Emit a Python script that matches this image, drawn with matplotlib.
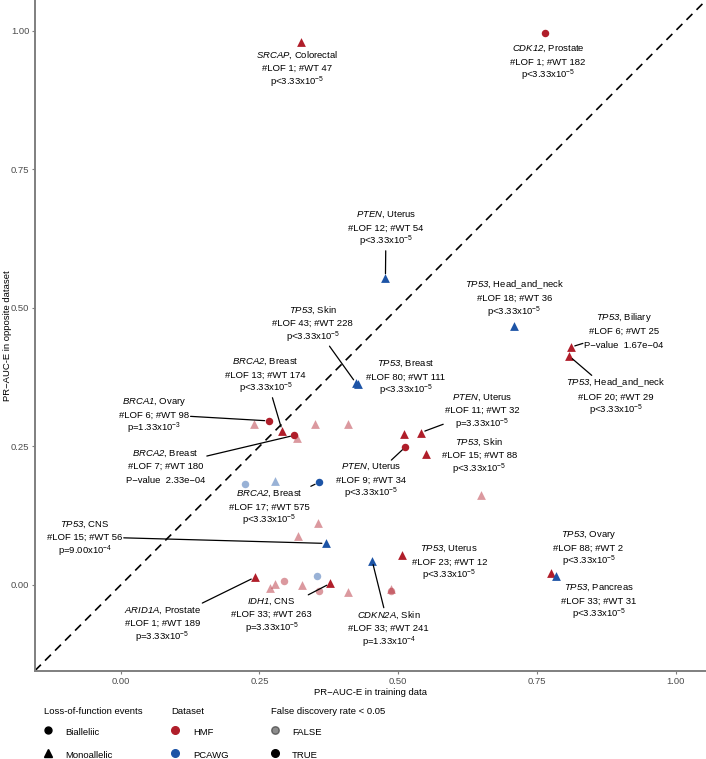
import matplotlib
matplotlib.use('Agg')
import matplotlib.pyplot as plt
from matplotlib.lines import Line2D
from matplotlib.patches import Rectangle
from matplotlib.transforms import Bbox, IdentityTransform

plt.rcParams['font.family'] = 'Liberation Sans'
plt.rcParams['mathtext.fontset'] = 'custom'
plt.rcParams['mathtext.rm'] = 'Liberation Sans'
plt.rcParams['mathtext.it'] = 'Liberation Sans:italic'
plt.rcParams['mathtext.sf'] = 'Liberation Sans:italic'

# Labelled gene / tissue combinations
genes = ['SRCAP', 'CDK12', 'PTEN', 'TP53', 'TP53', 'TP53', 'TP53', 'TP53', 'BRCA2', 'BRCA1', 'BRCA2',
         'PTEN', 'PTEN', 'TP53', 'BRCA2', 'TP53', 'TP53', 'CDKN2A', 'ARID1A', 'IDH1', 'TP53', 'TP53']
tissues = ['Colorectal', 'Prostate', 'Uterus', 'Head_and_neck', 'Biliary', 'Head_and_neck', 'Skin', 'Breast',
           'Breast', 'Ovary', 'Breast', 'Uterus', 'Uterus', 'Skin', 'Breast', 'CNS', 'Uterus', 'Skin',
           'Prostate', 'CNS', 'Ovary', 'Pancreas']
n_lof = [1, 1, 12, 18, 6, 20, 43, 80, 13, 6, 7, 11, 9, 15, 17, 15, 23, 33, 1, 33, 88, 33]
n_wt = [47, 182, 54, 36, 25, 29, 228, 111, 174, 98, 180, 32, 34, 88, 575, 56, 12, 241, 189, 263, 2, 31]
p_labels = ['p<3.33x10$^{-5}$', 'p<3.33x10$^{-5}$', 'p<3.33x10$^{-5}$', 'p<3.33x10$^{-5}$',
            'P\u2212value  1.67e\u221204', 'p<3.33x10$^{-5}$', 'p<3.33x10$^{-5}$', 'p<3.33x10$^{-5}$',
            'p<3.33x10$^{-5}$', 'p=1.33x10$^{-3}$', 'P\u2212value  2.33e\u221204', 'p=3.33x10$^{-5}$',
            'p<3.33x10$^{-5}$', 'p<3.33x10$^{-5}$', 'p<3.33x10$^{-5}$', 'p=9.00x10$^{-4}$',
            'p<3.33x10$^{-5}$', 'p=1.33x10$^{-4}$', 'p=3.33x10$^{-5}$', 'p=3.33x10$^{-5}$',
            'p<3.33x10$^{-5}$', 'p<3.33x10$^{-5}$']
lab_train = [0.324, 0.764, 0.477, 0.709, 0.811, 0.808, 0.424, 0.427, 0.291, 0.267, 0.313,
             0.541, 0.513, 0.551, 0.357, 0.370, 0.507, 0.453, 0.242, 0.378, 0.775, 0.785]
lab_opp = [0.980, 0.995, 0.554, 0.468, 0.429, 0.413, 0.364, 0.362, 0.278, 0.296, 0.270,
           0.275, 0.249, 0.236, 0.185, 0.075, 0.054, 0.044, 0.014, 0.003, 0.021, 0.017]
lab_dataset = ['HMF', 'HMF', 'PCAWG', 'PCAWG', 'HMF', 'HMF', 'PCAWG', 'PCAWG', 'HMF', 'HMF', 'HMF',
               'HMF', 'HMF', 'HMF', 'PCAWG', 'PCAWG', 'HMF', 'PCAWG', 'HMF', 'HMF', 'HMF', 'PCAWG']
lab_lof = ['Mono', 'Bi', 'Mono', 'Mono', 'Mono', 'Mono', 'Mono', 'Mono', 'Mono', 'Bi', 'Bi',
           'Mono', 'Bi', 'Mono', 'Bi', 'Mono', 'Mono', 'Mono', 'Mono', 'Mono', 'Mono', 'Mono']

# Unlabelled points
other_train = [0.511, 0.240, 0.351, 0.409, 0.318, 0.649, 0.355, 0.319, 0.269, 0.278, 0.327, 0.409,
               0.487, 0.294, 0.357, 0.487, 0.224, 0.354, 0.278]
other_opp = [0.272, 0.290, 0.290, 0.290, 0.265, 0.162, 0.112, 0.088, -0.006, 0.002, 0.000, -0.012,
             -0.008, 0.008, -0.010, -0.010, 0.182, 0.017, 0.188]
other_dataset = ['HMF'] * 16 + ['PCAWG'] * 3
other_lof = ['Mono'] * 13 + ['Bi'] * 3 + ['Bi', 'Bi', 'Mono']
other_sig = [True] + [False] * 18

# label placement (data coords, centre of text block) and whether a segment is drawn
label_pos = [(0.318, 0.933), (0.770, 0.945), (0.478, 0.645), (0.709, 0.518), (0.907, 0.459),
             (0.892, 0.341), (0.346, 0.473), (0.514, 0.376), (0.261, 0.380), (0.060, 0.308),
             (0.081, 0.215), (0.651, 0.316), (0.451, 0.191), (0.646, 0.235), (0.268, 0.142),
             (-0.065, 0.087), (0.592, 0.043), (0.483, -0.077), (0.075, -0.068), (0.272, -0.052),
             (0.843, 0.068), (0.861, -0.028)]
segment = [False, False, True, False, True, True, True, False, True, True, True, True, True, False,
           True, True, False, True, True, True, False, False]

colors = {'HMF': '#B01E2A', 'PCAWG': '#1D54A6'}
markers = {'Bi': 'o', 'Mono': '^'}
sizes = {'Bi': 29, 'Mono': 40}
FS = 6.8
LINE_PT = 9.86   # distance between label lines, points

fig = plt.figure(figsize=(7.06, 7.59), dpi=100)
ax = fig.add_axes([35 / 706, 88.3 / 759, 671 / 706, 670.7 / 759])
ax.set_xlim(-0.1544, 1.0546)
ax.set_ylim(-0.1546, 1.0552)

ax.axline((0, 0), slope=1, color='black', lw=1.2, ls=(0, (5, 3.5)), zorder=1)


def draw_point(x, y, ds, lof, sig):
    ax.scatter(x, y, marker=markers[lof], s=sizes[lof], color=colors[ds],
               alpha=1.0 if sig else 0.45, linewidths=0, zorder=3)


for i in range(len(other_train)):
    draw_point(other_train[i], other_opp[i], other_dataset[i], other_lof[i], other_sig[i])

label_texts = []
for i in range(len(lab_train)):
    draw_point(lab_train[i], lab_opp[i], lab_dataset[i], lab_lof[i], True)
    lines = ['$\\mathsf{%s}$, %s' % (genes[i], tissues[i]),
             '#LOF %d; #WT %d' % (n_lof[i], n_wt[i]),
             p_labels[i]]
    texts = []
    for k, line in enumerate(lines):
        t = ax.annotate(line, xy=label_pos[i], xycoords='data',
                        xytext=(0, (1 - k) * LINE_PT - 2.45), textcoords='offset points',
                        ha='center', va='baseline', fontsize=FS, zorder=5)
        texts.append(t)
    label_texts.append(texts)

for side in ['top', 'right']:
    ax.spines[side].set_visible(False)
for side in ['left', 'bottom']:
    ax.spines[side].set_color('#7F7F7F')
    ax.spines[side].set_linewidth(1.4)

ticks = [0.00, 0.25, 0.50, 0.75, 1.00]
ax.set_xticks(ticks)
ax.set_yticks(ticks)
ax.set_xticklabels(['%.2f' % t for t in ticks])
ax.set_yticklabels(['%.2f' % t for t in ticks])
ax.tick_params(length=2.2, width=0.8, color='#7F7F7F', labelcolor='#4D4D4D', labelsize=FS, pad=2)
ax.set_xlabel('PR\u2212AUC-E in training data', fontsize=FS, labelpad=2)
ax.set_ylabel('PR\u2212AUC-E in opposite dataset', fontsize=FS)
ax.yaxis.set_label_coords(-0.034, 0.5)

# segments from the label box edge to the point (ggrepel style)
fig.canvas.draw()
renderer = fig.canvas.get_renderer()
for i in range(len(lab_train)):
    if not segment[i]:
        continue
    box = Bbox.union([t.get_window_extent(renderer) for t in label_texts[i]]).padded(1.5)
    edge = Rectangle((box.x0, box.y0), box.width, box.height, transform=IdentityTransform())
    ax.annotate('', xy=(lab_train[i], lab_opp[i]), xytext=label_pos[i], textcoords='data',
                arrowprops=dict(arrowstyle='-', color='black', lw=0.9, shrinkA=0, shrinkB=3,
                                patchA=edge), zorder=4)

leg_kw = dict(loc='upper left', frameon=False, fontsize=FS, title_fontsize=FS, alignment='left',
              borderpad=0, borderaxespad=0, handlelength=0.8, handleheight=1.8,
              handletextpad=1.45, labelspacing=1.0)
lof_handles = [Line2D([], [], ls='', marker='o', color='black', markersize=5),
               Line2D([], [], ls='', marker='^', color='black', markersize=6)]
ds_handles = [Line2D([], [], ls='', marker='o', color=colors['HMF'], markersize=5.5),
              Line2D([], [], ls='', marker='o', color=colors['PCAWG'], markersize=5.5)]
fdr_handles = [Line2D([], [], ls='', marker='o', color='black', alpha=0.45, markersize=5.5),
               Line2D([], [], ls='', marker='o', color='black', markersize=5.5)]
fig.legend(lof_handles, ['Bialleliic', 'Monoallelic'], title='Loss-of-function events',
           bbox_to_anchor=(44 / 706, 0.069), **leg_kw)
fig.legend(ds_handles, ['HMF', 'PCAWG'], title='Dataset',
           bbox_to_anchor=(171.5 / 706, 0.069), **leg_kw)
fig.legend(fdr_handles, ['FALSE', 'TRUE'], title='False discovery rate < 0.05',
           bbox_to_anchor=(271 / 706, 0.069), **leg_kw)

fig.savefig('out.png', dpi=100)
